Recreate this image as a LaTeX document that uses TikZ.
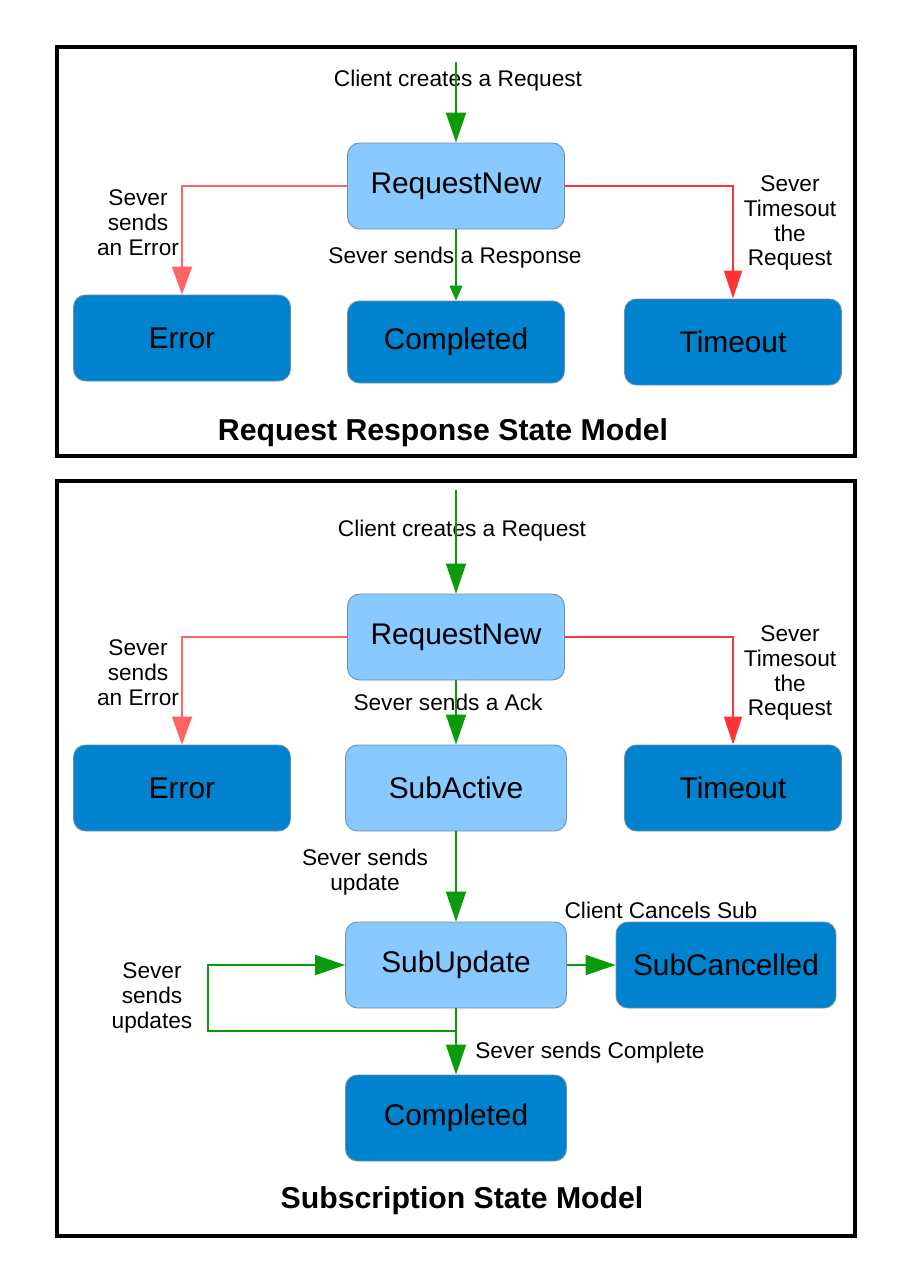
\documentclass[tikz,border=0pt]{standalone}
\usepackage{fontspec}
\setmainfont{Liberation Sans}
\usetikzlibrary{arrows.meta, positioning}
\definecolor{newblue}{HTML}{88CAFF}
\definecolor{endblue}{HTML}{0082CE}
\definecolor{edgegray}{HTML}{6F8FA8}
\definecolor{gogreen}{HTML}{0A9A0A}
\definecolor{errred}{HTML}{FF6464}
\definecolor{outred}{HTML}{FF3333}
\tikzstyle{go} = [draw=gogreen, line width=1.1pt, -{Triangle[length=0.6cm, width=0.4cm]}]

\begin{document}
\begin{tikzpicture}[
    x=0.02cm, y=-0.02cm,
    state/.style={rectangle, rounded corners=0.24cm, draw=edgegray, line width=0.5pt, minimum width=4.34cm, minimum height=1.72cm, font=\fontsize{17}{20}\selectfont},
    newstate/.style={state, fill=newblue},
    endstate/.style={state, fill=endblue},
    note/.style={font=\fontsize{12.9}{14.2}\selectfont, align=center, inner sep=0pt},
    title/.style={font=\bfseries\fontsize{17.2}{20}\selectfont},
    frame/.style={draw=black, line width=2.3pt},
    errline/.style={draw=errred, line width=1.1pt, -{Triangle[length=0.56cm, width=0.4cm, fill=errred]}},
    outline/.style={draw=outred, line width=1.1pt, -{Triangle[length=0.56cm, width=0.36cm, fill=outred]}},
    thin go/.style={draw=gogreen, line width=0.6pt, -{Triangle[length=0.3cm, width=0.26cm]}}
  ]
  \useasboundingbox (0,0) rectangle (910,1286);

  \draw[frame] (57,47) rectangle (855,456);
  \draw[frame] (57,481) rectangle (855,1236);

  \node[newstate] (rn1) at (456,186) {RequestNew};
  \node[endstate] (err1) at (182,338) {Error};
  \node[endstate, minimum height=1.64cm] (done1) at (456,342) {Completed};
  \node[endstate] (out1) at (733,342) {Timeout};
  \node[title] (t1) at (443,433) {Request Response State Model};

  \coordinate (in1) at (456,62);
  \node[note] (l-in1) at (458,81) {Client creates a Request};
  \node[note] (l-err1) at (138,223) {Sever\\sends\\an Error};
  \node[note] (l-out1) at (790,223) {Sever\\Timesout\\the\\Request};
  \node[note, fill=white, inner sep=1pt] (l-done1) at (455,258) {Sever sends a Response};

  \draw[go] (in1) -- (rn1.north);
  \draw[errline] (rn1.west) -| (err1.north);
  \draw[outline] (rn1.east) -| (out1.north);
  \draw[thin go] (rn1.south) -- (done1.north);

  \node[newstate] (rn2) at (456,637) {RequestNew};
  \node[endstate] (err2) at (182,788) {Error};
  \node[newstate, minimum width=4.42cm] (act) at (456,788) {SubActive};
  \node[endstate] (out2) at (733,788) {Timeout};
  \node[newstate, minimum width=4.42cm] (upd) at (456,965) {SubUpdate};
  \node[endstate, minimum width=4.4cm] (canc) at (726,965) {SubCancelled};
  \node[endstate, minimum width=4.42cm] (done2) at (456,1118) {Completed};
  \node[title] (t2) at (462,1201) {Subscription State Model};

  \coordinate (in2) at (456,490);
  \coordinate (split) at (456,1031);
  \coordinate (turn) at (208,1031);
  \node[note] (l-in2) at (462,531) {Client creates a Request};
  \node[note] (l-err2) at (138,673) {Sever\\sends\\an Error};
  \node[note] (l-out2) at (790,673) {Sever\\Timesout\\the\\Request};
  \node[note] (l-act) at (448,702) {Sever sends a Ack};
  \node[note] (l-upd) at (365,872) {Sever sends\\update};
  \node[note] (l-canc) at (661,910) {Client Cancels Sub};
  \node[note] (l-loop) at (152,998) {Sever\\sends\\updates};
  \node[note, anchor=west] (l-done2) at (475,1053) {Sever sends Complete};

  \draw[go] (in2) -- (rn2.north);
  \draw[errline] (rn2.west) -| (err2.north);
  \draw[outline] (rn2.east) -| (out2.north);
  \draw[go] (rn2.south) -- (act.north);
  \draw[go] (act.south) -- (upd.north);
  \draw[go] (upd.east) -- (canc.west);
  \draw[go] (upd.south) -- (split) -- (turn) |- (upd.west);
  \draw[go] (split) -- (done2.north);

\end{tikzpicture}
\end{document}
